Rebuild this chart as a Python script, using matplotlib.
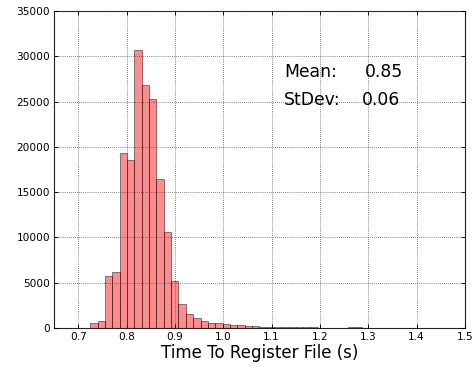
import numpy as np
import matplotlib
matplotlib.use("Agg")
import matplotlib.pyplot as plt

# Histogram data
bin_start = 0.725
bin_width = 0.0152
counts = [550, 800, 5750, 6150, 19300, 18500, 30700, 26800, 25300, 16500,
          10550, 5150, 2650, 1550, 1100, 750, 600, 550, 400, 330,
          290, 220, 180, 150, 110, 100, 120, 70, 120, 60,
          70, 50, 40, 40, 30, 100, 90, 20, 20, 10,
          10, 10, 5, 5, 0, 5, 0, 0, 0, 5]
mean_val = "0.85"
std_val = "0.06"
xticks = [0.7, 0.8, 0.9, 1.0, 1.1, 1.2, 1.3, 1.4, 1.5]
yticks = [0, 5000, 10000, 15000, 20000, 25000, 30000, 35000]

edges = bin_start + bin_width * np.arange(len(counts) + 1)
centers = (edges[:-1] + edges[1:]) / 2

fig = plt.figure(figsize=(476 / 80, 367 / 80), dpi=80)
ax = fig.add_axes([54 / 476, 1 - 328 / 367, (465 - 54) / 476, (328 - 11) / 367])

ax.hist(centers, bins=edges, weights=counts, color='red', alpha=0.45,
        edgecolor='black', linewidth=0.9)

ax.set_xlim(0.65, 1.5)
ax.set_ylim(0, 35000)
ax.set_xticks(xticks)
ax.set_yticks(yticks)
ax.set_xticklabels([f"{t:.1f}" for t in xticks])
ax.grid(True, color='#444444', linestyle=':', linewidth=0.7)
ax.set_axisbelow(False)
ax.tick_params(direction='in', length=4, top=True, right=True, labelsize=9.5)
for s in ax.spines.values():
    s.set_color('#222222')
    s.set_linewidth(1.0)

ax.set_xlabel("Time To Register File (s)", fontsize=15, labelpad=2)

ax.text(0.56, 0.792, "Mean:", transform=ax.transAxes, fontsize=15.5, va='baseline')
ax.text(0.757, 0.792, mean_val, transform=ax.transAxes, fontsize=15.5, va='baseline')
ax.text(0.56, 0.703, "StDev:", transform=ax.transAxes, fontsize=15.5, va='baseline')
ax.text(0.749, 0.703, std_val, transform=ax.transAxes, fontsize=15.5, va='baseline')

fig.savefig("out.png", dpi=80)
